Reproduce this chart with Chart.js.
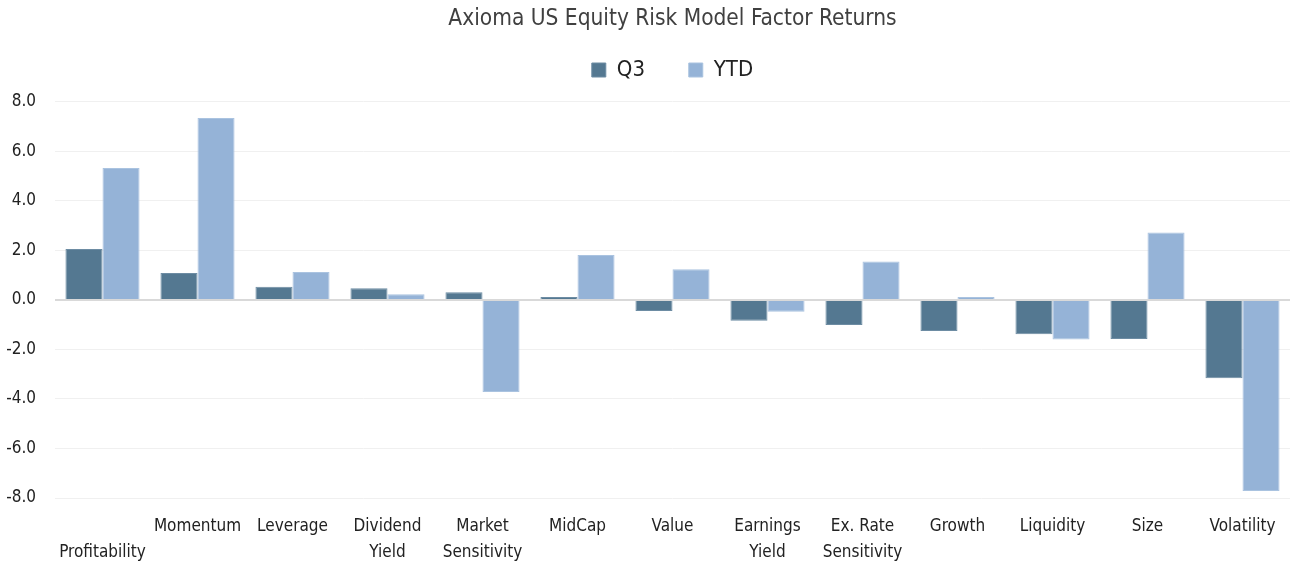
<!DOCTYPE html>
<html>
<head>
<meta charset="utf-8">
<script src="https://cdn.jsdelivr.net/npm/chart.js@4.4.0/dist/chart.umd.min.js"></script>
<style>
    html, body { margin: 0; padding: 0; background: #fff; }
    #wrap { width: 1293px; height: 565px; position: relative; }
</style>
</head>
<body>
<div id="wrap"><canvas id="grafico"></canvas></div>
<script>
const categorias = [
    ['', 'Profitability'], 'Momentum', 'Leverage', ['Dividend', 'Yield'], ['Market', 'Sensitivity'],
    'MidCap', 'Value', ['Earnings', 'Yield'], ['Ex. Rate', 'Sensitivity'], 'Growth', 'Liquidity', 'Size', 'Volatility'
];
const q3 = [2.06, 1.09, 0.53, 0.47, 0.31, 0.12, -0.45, -0.84, -1.01, -1.25, -1.39, -1.58, -3.16];
const ytd = [5.33, 7.35, 1.13, 0.23, -3.72, 1.82, 1.24, -0.48, 1.55, 0.12, -1.60, 2.72, -7.72];
const ticksY = [-8, -6, -4, -2, 0, 2, 4, 6, 8];

const fonte = '"DejaVu Sans Condensed", "Liberation Sans Narrow", sans-serif';

const ctx = document.getElementById('grafico').getContext('2d');
new Chart(ctx, {
    type: 'bar',
    data: {
        labels: categorias,
        datasets: [
            {
                label: 'Q3',
                data: q3,
                backgroundColor: '#547891',
                borderColor: '#6d8ca3',
                borderWidth: 1,
                categoryPercentage: 0.78,
                barPercentage: 1.0
            },
            {
                label: 'YTD',
                data: ytd,
                backgroundColor: '#95B3D7',
                borderColor: '#aac3e0',
                borderWidth: 1,
                categoryPercentage: 0.78,
                barPercentage: 1.0
            }
        ]
    },
    options: {
        responsive: true,
        maintainAspectRatio: false,
        animation: false,
        layout: { padding: { left: 0, right: 3, top: 6, bottom: 0 } },
        plugins: {
            // fullSize false: título e legenda centrados sobre a área do gráfico
            title: {
                display: true,
                fullSize: false,
                text: 'Axioma US Equity Risk Model Factor Returns',
                color: '#404040',
                font: { family: fonte, size: 22.5, weight: 'normal' },
                padding: { top: 0, bottom: 2 }
            },
            legend: {
                display: true,
                fullSize: false,
                labels: {
                    color: '#222',
                    font: { family: fonte, size: 22 },
                    boxWidth: 14,
                    boxHeight: 14,
                    padding: 24,
                    useBorderRadius: false,
                    generateLabels: (chart) => {
                        const itens = Chart.defaults.plugins.legend.labels.generateLabels(chart);
                        itens.forEach((it, i) => { if (i < itens.length - 1) it.text = it.text + '\u2003'; });
                        return itens;
                    }
                }
            },
            tooltip: { enabled: false }
        },
        scales: {
            x: {
                grid: { display: false, drawTicks: false },
                border: { display: false },
                afterFit: (s) => { s.height = 67; },
                ticks: {
                    color: '#222',
                    font: { family: fonte, size: 17, lineHeight: 1.5 },
                    maxRotation: 0,
                    autoSkip: false,
                    padding: 16
                }
            },
            y: {
                min: -8,
                max: 8.44,
                afterBuildTicks: (eixo) => { eixo.ticks = ticksY.map(v => ({ value: v })); },
                afterFit: (s) => { s.width = 55; },
                grid: {
                    color: (c) => c.tick && c.tick.value === 0 ? '#d9d9d9' : '#f0f0f0',
                    lineWidth: (c) => c.tick && c.tick.value === 0 ? 2 : 1,
                    drawTicks: false
                },
                border: { display: false },
                ticks: {
                    color: '#222',
                    font: { family: fonte, size: 17 },
                    padding: 19,
                    callback: (v) => v.toFixed(1)
                }
            }
        }
    }
});
</script>
</body>
</html>
